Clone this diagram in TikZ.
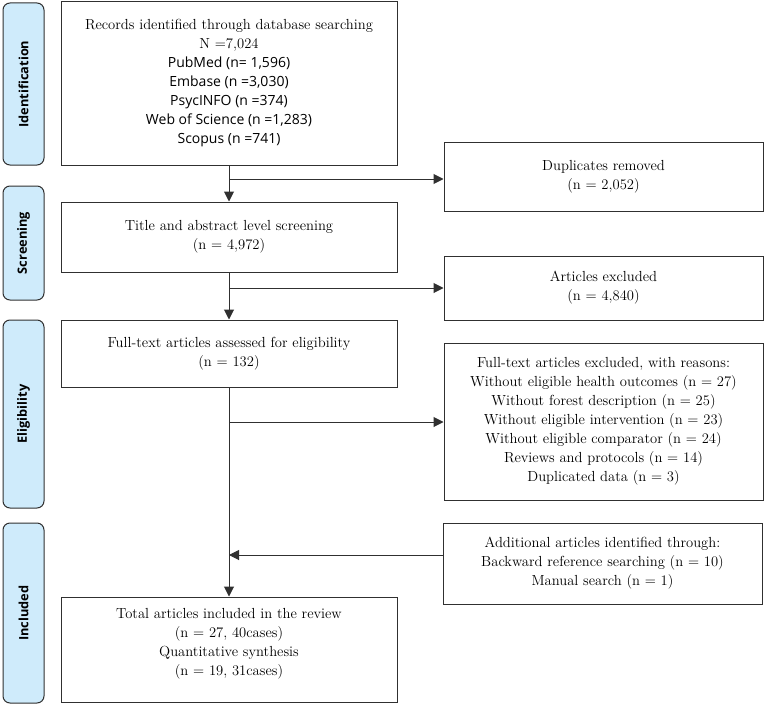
\documentclass[tikz,border=0pt]{standalone}
\usepackage{fontspec}
\newfontfamily\dbfont{Open Sans}
\usetikzlibrary{arrows.meta}
\definecolor{stagefill}{HTML}{CFEBFB}
\definecolor{linegray}{HTML}{303030}

\begin{document}
\begin{tikzpicture}[x=1pt,y=-1pt]
\tikzset{box/.style={draw=linegray,line width=1pt,align=center,inner sep=0pt,font=\fontsize{14.6}{19}\selectfont}}
\tikzset{stage/.style={draw=linegray,line width=1pt,fill=stagefill,rounded corners=7pt,rotate=90,minimum height=41pt,inner sep=0pt,font=\dbfont\bfseries\fontsize{12.8}{14}\selectfont}}
\tikzset{arr/.style={draw=linegray,line width=1pt,-{Triangle[length=10pt,width=10pt]}}}

\useasboundingbox (0,0) rectangle (765,706);

\node[stage,minimum width=162pt] (ident) at (23.5,84) {Identification};
\node[stage,minimum width=114pt] (screen) at (23.5,243) {Screening};
\node[stage,minimum width=188pt] (elig) at (23.5,414) {Eligibility};
\node[stage,minimum width=180pt] (incl) at (23.5,613) {Included};

\node[box,minimum width=336pt,minimum height=163pt] (records) at (229,83.5) {Records identified through database searching\\
N =7,024\\
{\dbfont\fontsize{14}{19}\selectfont PubMed (n= 1,596)}\\
{\dbfont\fontsize{14}{19}\selectfont Embase (n =3,030)}\\
{\dbfont\fontsize{14}{19}\selectfont PsycINFO (n =374)}\\
{\dbfont\fontsize{14}{19}\selectfont Web of Science (n =1,283)}\\
{\dbfont\fontsize{14}{19}\selectfont Scopus (n =741)}};
\node[box,minimum width=336pt,minimum height=70pt] (title) at (229,237) {Title and abstract level screening\\(n = 4,972)};
\node[box,minimum width=336pt,minimum height=67pt] (fulltext) at (229,353.5) {Full-text articles assessed for eligibility\\(n = 132)};
\node[box,minimum width=336pt,minimum height=105pt] (total) at (229,649.5) {Total articles included in the review\\(n = 27, 40cases)\\Quantitative synthesis\\(n = 19, 31cases)\\[-3pt]};

\node[box,minimum width=319pt,minimum height=69pt] (dup) at (603.5,176.5) {Duplicates removed\\(n = 2,052)};
\node[box,minimum width=319pt,minimum height=64pt] (excl) at (603.5,288) {Articles excluded\\(n = 4,840)};
\node[box,minimum width=319pt,minimum height=157pt] (reasons) at (603.5,421.5) {Full-text articles excluded, with reasons:\\
Without eligible health outcomes (n = 27)\\
Without forest description (n = 25)\\
Without eligible intervention (n = 23)\\
Without eligible comparator (n = 24)\\
Reviews and protocols (n = 14)\\
Duplicated data (n = 3)};
\node[box,minimum width=319pt,minimum height=81pt] (extra) at (602.5,563.5) {Additional articles identified through:\\
Backward reference searching (n = 10)\\
Manual search (n = 1)};

\coordinate (b1) at (229,179);
\coordinate (b2) at (229,288);
\coordinate (b3) at (229,422);
\coordinate (b4) at (229,555);

\draw[arr] (records) -- (title);
\draw[arr] (title) -- (fulltext);
\draw[arr] (fulltext) -- (total);
\draw[arr] (b1) -- (b1 -| dup.west);
\draw[arr] (b2) -- (b2 -| excl.west);
\draw[arr] (b3) -- (b3 -| reasons.west);
\draw[arr] (b4 -| extra.west) -- (b4);

\end{tikzpicture}
\end{document}
